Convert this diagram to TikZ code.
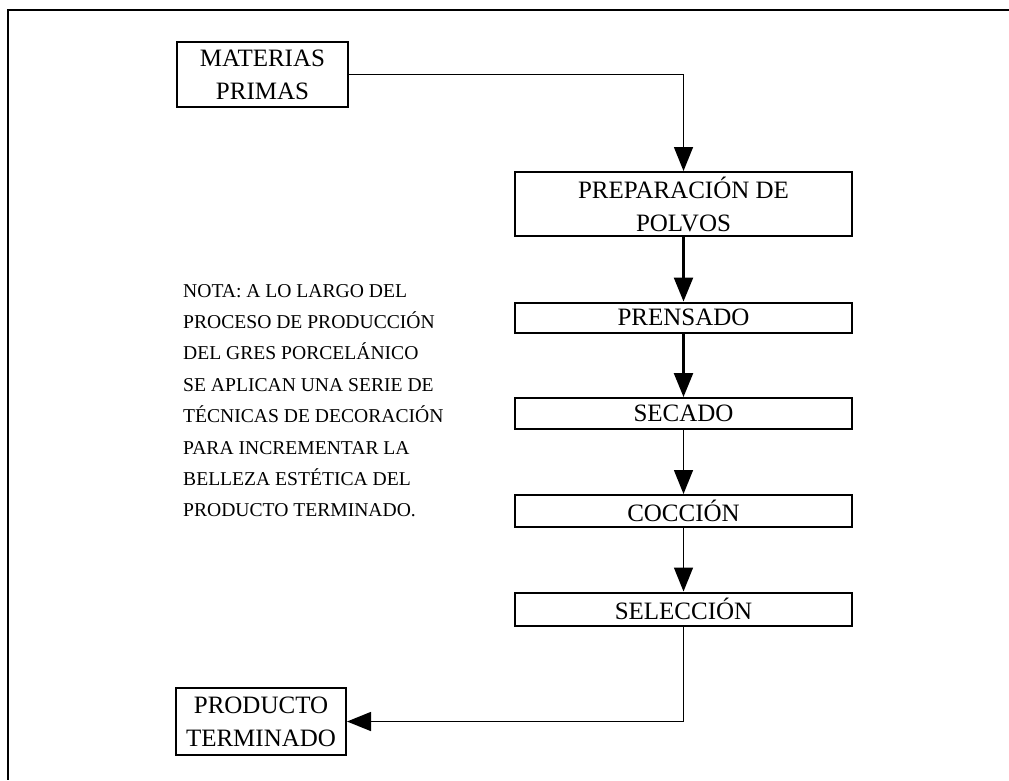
\documentclass[tikz,border=0pt]{standalone}
\usepackage{fontspec}
\setmainfont{Liberation Serif}
\usetikzlibrary{arrows.meta}
\begin{document}
\begin{tikzpicture}[x=1pt,y=-1pt,
  box/.style={draw,line width=2pt,inner sep=0pt,align=center,
    font=\fontsize{25}{33}\selectfont},
  flow/.style={line width=1.5pt,-{Triangle[width=19pt,length=24pt]}},
  thickflow/.style={flow,line width=2.4pt},
  frame/.style={line width=2.4pt}]
\useasboundingbox (0,0) rectangle (1009,780);
\coordinate (ftr) at (1009,10);
\coordinate (ftl) at (8,10);
\coordinate (fbl) at (8,780);
\draw[frame] (ftr) -- (ftl) -- (fbl);
\node[box,minimum width=171pt,minimum height=65pt] (mp) at (262.5,74.5) {MATERIAS\\PRIMAS};
\node[box,minimum width=337pt,minimum height=64pt] (prep) at (683.5,204) {PREPARACIÓN DE\\POLVOS};
\node[box,minimum width=337pt,minimum height=30pt] (pren) at (683.5,317.5) {PRENSADO};
\node[box,minimum width=337pt,minimum height=31pt] (sec) at (683.5,413.5) {SECADO};
\node[box,minimum width=337pt,minimum height=32pt] (coc) at (683.5,511) {COCCIÓN};
\node[box,minimum width=337pt,minimum height=33pt] (sel) at (683.5,609) {SELECCIÓN};
\node[box,minimum width=170pt,minimum height=67pt] (prod) at (261,721.5) {PRODUCTO\\TERMINADO};
\node[anchor=north west,inner sep=0pt,align=left,font=\fontsize{19.6}{31.4}\selectfont] (nota) at (183,284)
  {NOTA: A LO LARGO DEL\\PROCESO DE PRODUCCIÓN\\DEL GRES PORCELÁNICO\\SE APLICAN UNA SERIE DE\\TÉCNICAS DE DECORACIÓN\\PARA INCREMENTAR LA\\BELLEZA ESTÉTICA DEL\\PRODUCTO TERMINADO.};
\draw[flow] (mp.east) -| (prep.north);
\draw[thickflow] (prep) -- (pren);
\draw[thickflow] (pren) -- (sec);
\draw[flow] (sec) -- (coc);
\draw[flow] (coc) -- (sel);
\draw[flow] (sel.south) |- (prod.east);
\end{tikzpicture}
\end{document}
